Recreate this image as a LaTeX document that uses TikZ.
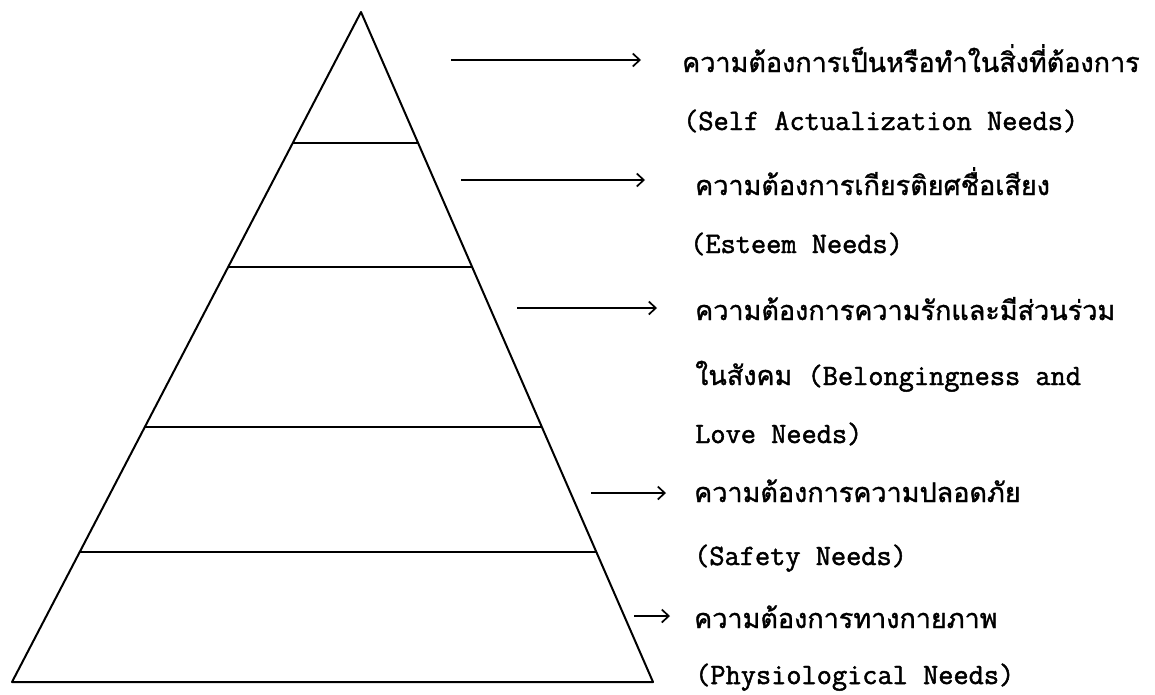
\documentclass[tikz,border=0pt]{standalone}
\usepackage{fontspec}
\newfontfamily\tw{Latin Modern Mono}[FakeBold=1.6]
\newfontfamily\thai{Loma}[Script=Thai,FakeBold=1.2]
\usetikzlibrary{arrows.meta}
\tikzset{
  edge/.style={line width=2pt, line cap=round, line join=round},
  band/.style={line width=2pt},
  arr/.style={line width=1.7pt, -{Straight Barb[length=7pt,width=13pt,line width=1.7pt]}},
  th/.style={anchor=base west, inner sep=0pt, font=\thai\fontsize{27}{27}\selectfont},
  en/.style={anchor=base west, inner sep=0pt, font=\tw\fontsize{29.5}{29.5}\selectfont},
}
\begin{document}
\begin{tikzpicture}[x=1pt,y=-1pt]
\useasboundingbox (0,0) rectangle (1155,694);
% pyramid
\coordinate (A) at (361,12);
\coordinate (BL) at (12,682);
\coordinate (BR) at (653,682);
\draw[edge] (BL) -- (A) -- (BR) -- cycle;
% bands
\path (A) -- (BL) coordinate[pos=0.1955] (L1) coordinate[pos=0.3806] (L2) coordinate[pos=0.6194] (L3) coordinate[pos=0.8060] (L4);
\path (A) -- (BR) coordinate[pos=0.1955] (R1) coordinate[pos=0.3806] (R2) coordinate[pos=0.6194] (R3) coordinate[pos=0.8060] (R4);
\draw[band] (L1) -- (R1);
\draw[band] (L2) -- (R2);
\draw[band] (L3) -- (R3);
\draw[band] (L4) -- (R4);
% arrows
\coordinate (a1s) at (451,60);  \coordinate (a1e) at (641,60);
\coordinate (a2s) at (461,180); \coordinate (a2e) at (645,180);
\coordinate (a3s) at (517,308); \coordinate (a3e) at (657,308);
\coordinate (a4s) at (591,493); \coordinate (a4e) at (666,493);
\coordinate (a5s) at (634,616); \coordinate (a5e) at (670,616);
\draw[arr] (a1s) -- (a1e);
\draw[arr] (a2s) -- (a2e);
\draw[arr] (a3s) -- (a3e);
\draw[arr] (a4s) -- (a4e);
\draw[arr] (a5s) -- (a5e);
% texts
\node[th] (t1) at (682,72) {ความต้องการเป็นหรือทำในสิ่งที่ต้องการ};
\node[en] (e1) at (683,130) {(Self Actualization Needs)};
\node[th] (t2) at (695,195) {ความต้องการเกียรติยศชื่อเสียง};
\node[en] (e2) at (690,253) {(Esteem Needs)};
\node[th] (t3) at (695,320) {ความต้องการความรักและมีส่วนร่วม};
\node[en] (e3) at (695,385) {{\thai\fontsize{27}{27}\selectfont ในสังคม} (Belongingness and};
\node[en] (e3b) at (695,443) {Love Needs)};
\node[th] (t4) at (694,502) {ความต้องการความปลอดภัย};
\node[en] (e4) at (694,565) {(Safety Needs)};
\node[th] (t5) at (694,628) {ความต้องการทางกายภาพ};
\node[en] (e5) at (695,684) {(Physiological Needs)};
\end{tikzpicture}
\end{document}
